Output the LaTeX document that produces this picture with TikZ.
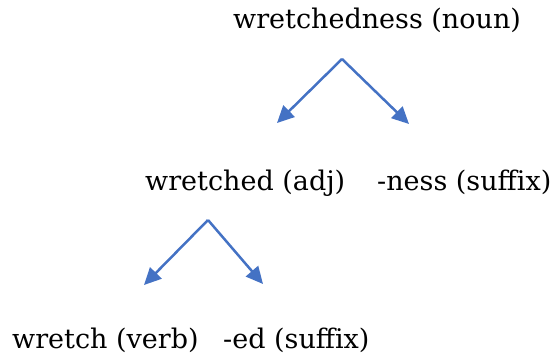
\documentclass[tikz,border=0pt]{standalone}
\usepackage{fontspec}
\setmainfont{DejaVu Serif}
\usetikzlibrary{arrows.meta}
\definecolor{arrowblue}{HTML}{4472C4}
\tikzset{
  word/.style={inner sep=0pt, anchor=base west, font=\fontsize{27}{32}\selectfont},
  branch/.style={draw=arrowblue, line width=2.5pt, line join=round, -{Triangle[width=16pt,length=17pt]}}
}
\begin{document}
\begin{tikzpicture}[x=1pt,y=-1pt]
\useasboundingbox (0,0) rectangle (554,358);
\node[word] (noun) at (233,29) {wretchedness (noun)};
\node[word] (adj) at (145,191) {wretched (adj)};
\node[word] (ness) at (377,191) {-ness (suffix)};
\node[word] (verb) at (12,348) {wretch (verb)};
\node[word] (ed) at (223,348) {-ed (suffix)};
\coordinate (top1) at (342,59);
\coordinate (tipA) at (277,123);
\coordinate (tipB) at (409,124);
\coordinate (top2) at (208,220);
\coordinate (tipC) at (144,285);
\coordinate (tipD) at (263,284);
\draw[branch] (top1) -- (tipA);
\draw[branch] (top1) -- (tipB);
\draw[branch] (top2) -- (tipC);
\draw[branch] (top2) -- (tipD);
\end{tikzpicture}
\end{document}
